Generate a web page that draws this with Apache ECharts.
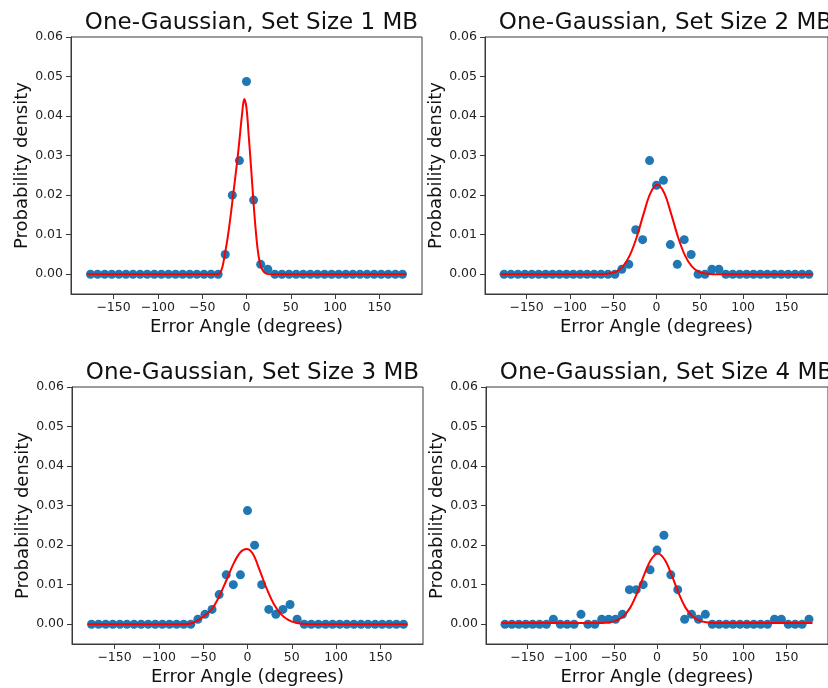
<!DOCTYPE html>
<html>
<head>
<meta charset="utf-8" />
<title>One-Gaussian fits</title>
<style>
  html, body { margin: 0; padding: 0; background: #fff; }
  #mapBox { width: 828px; height: 688px; }
</style>
</head>
<body>
<div id="mapBox"></div>
<script src="https://cdn.jsdelivr.net/npm/echarts@6/dist/echarts.min.js"></script>
<script>
// bin centres (degrees)
var binCenters = [-176, -168, -160, -152, -144, -136, -128, -120, -112, -104, -96, -88, -80, -72, -64, -56, -48, -40, -32, -24, -16, -8,
  0, 8, 16, 24, 32, 40, 48, 56, 64, 72, 80, 88, 96, 104, 112, 120, 128, 136, 144, 152, 160, 168, 176];

// observed densities per panel
var obs1 = [0, 0, 0, 0, 0, 0, 0, 0, 0, 0, 0, 0, 0, 0, 0, 0, 0, 0, 0, 0.005, 0.02, 0.02875,
  0.04875, 0.01875, 0.0025, 0.00125, 0, 0, 0, 0, 0, 0, 0, 0, 0, 0, 0, 0, 0, 0, 0, 0, 0, 0, 0];
var obs2 = [0, 0, 0, 0, 0, 0, 0, 0, 0, 0, 0, 0, 0, 0, 0, 0, 0, 0.00125, 0.0025, 0.01125, 0.00875, 0.02875,
  0.0225, 0.02375, 0.0075, 0.0025, 0.00875, 0.005, 0, 0, 0.00125, 0.00125, 0, 0, 0, 0, 0, 0, 0, 0, 0, 0, 0, 0, 0];
var obs3 = [0, 0, 0, 0, 0, 0, 0, 0, 0, 0, 0, 0, 0, 0, 0, 0.00125, 0.0025, 0.00375, 0.0075, 0.0125, 0.01, 0.0125,
  0.02875, 0.02, 0.01, 0.00375, 0.0025, 0.00375, 0.005, 0.00125, 0, 0, 0, 0, 0, 0, 0, 0, 0, 0, 0, 0, 0, 0, 0];
var obs4 = [0, 0, 0, 0, 0, 0, 0, 0.00125, 0, 0, 0, 0.0025, 0, 0, 0.00125, 0.00125, 0.00125, 0.0025, 0.00875, 0.00875, 0.01, 0.01375,
  0.01875, 0.0225, 0.0125, 0.00875, 0.00125, 0.0025, 0.00125, 0.0025, 0, 0, 0, 0, 0, 0, 0, 0, 0, 0.00125, 0.00125, 0, 0, 0, 0.00125];

// fitted curves as [angle, density]
var fit1 = [[-180, 0], [-34, 0], [-30, 0.0003], [-27, 0.002], [-24.5, 0.005], [-22, 0.0082], [-20, 0.0112], [-17.5, 0.0155],
  [-15, 0.0202], [-12.5, 0.0248], [-10, 0.0295], [-7.5, 0.035], [-5, 0.0405], [-2.6, 0.0443], [0, 0.042], [2.5, 0.035],
  [5, 0.0275], [7.5, 0.0195], [10, 0.0122], [12.5, 0.0065], [15, 0.003], [17.5, 0.0013], [20, 0.0005], [23, 0.0001], [27, 0], [180, 0]];
var fit2 = [[-180, 0], [-63, 0], [-55, 0.0002], [-47, 0.0006], [-39, 0.0019], [-31, 0.0047], [-23, 0.0093], [-15, 0.0152],
  [-7, 0.0205], [1, 0.0226], [9, 0.0205], [17, 0.0152], [25, 0.0093], [33, 0.0047], [41, 0.0019], [49, 0.0006], [57, 0.0002], [65, 0], [180, 0]];
var fit3 = [[-180, 0], [-70, 0], [-62, 0.0003], [-56, 0.001], [-48, 0.0022], [-40, 0.0039], [-32, 0.007], [-24, 0.011],
  [-16, 0.0152], [-8, 0.0182], [-1, 0.019], [6, 0.0178], [14, 0.0135], [22, 0.0088], [30, 0.005], [38, 0.0025], [46, 0.0011],
  [54, 0.0004], [62, 0.0001], [70, 0], [180, 0]];
var fit4 = [[-180, 0.0003], [-63, 0.0003], [-55, 0.0005], [-47, 0.0009], [-39, 0.002], [-31, 0.0042], [-23, 0.0079], [-15, 0.0124],
  [-7, 0.0163], [1, 0.0179], [9, 0.0163], [17, 0.0124], [25, 0.0079], [33, 0.0042], [41, 0.002], [49, 0.0009], [57, 0.0005], [65, 0.0003], [180, 0.0003]];

var titles = ['One-Gaussian, Set Size 1 MB', 'One-Gaussian, Set Size 2 MB', 'One-Gaussian, Set Size 3 MB', 'One-Gaussian, Set Size 4 MB'];
var xTicks = [-150, -100, -50, 0, 50, 100, 150];
var yTicks = [0, 0.01, 0.02, 0.03, 0.04, 0.05, 0.06];

var _font = 'DejaVu Sans';
var axisColor = '#3a3a3a';
var textColor = '#222';

// plot boxes in pixels
var boxes = [
  { left: 71, top: 37, width: 351, height: 257 },
  { left: 485, top: 37, width: 351, height: 257 },
  { left: 72, top: 387, width: 351, height: 257 },
  { left: 486, top: 387, width: 351, height: 257 }
];

function minusFmt(v) {
  return v < 0 ? '\u2212' + (-v) : String(v);
}

function buildOption() {
  var obs = [obs1, obs2, obs3, obs4];
  var fits = [fit1, fit2, fit3, fit4];
  var grid = [], xAxis = [], yAxis = [], series = [], title = [];
  for (var i = 0; i < 4; i++) {
    var b = boxes[i];
    grid.push({
      left: b.left, top: b.top, width: b.width, height: b.height,
      show: true, borderColor: axisColor, borderWidth: 1, backgroundColor: 'transparent'
    });
    title.push({
      text: titles[i],
      left: b.left + b.width / 2,
      top: b.top - 30,
      textAlign: 'center',
      textStyle: { fontFamily: _font, fontSize: 23, fontWeight: 'normal', color: '#111' }
    });
    xAxis.push({
      type: 'value', gridIndex: i, min: -198, max: 198,
      name: 'Error Angle (degrees)', nameLocation: 'middle', nameGap: 24,
      nameTextStyle: { fontFamily: _font, fontSize: 18, color: '#111' },
      axisLine: { show: true, onZero: false, lineStyle: { color: axisColor, width: 1 } },
      axisTick: { show: true, length: 5, customValues: xTicks, lineStyle: { color: axisColor } },
      axisLabel: { customValues: xTicks, formatter: minusFmt, margin: 7, fontFamily: _font, fontSize: 12.5, color: textColor },
      splitLine: { show: false }
    });
    yAxis.push({
      type: 'value', gridIndex: i, min: -0.005, max: 0.06,
      name: 'Probability density', nameLocation: 'middle', nameGap: 36,
      nameTextStyle: { fontFamily: _font, fontSize: 18, color: '#111' },
      axisLine: { show: true, onZero: false, lineStyle: { color: axisColor, width: 1 } },
      axisTick: { show: true, length: 5, customValues: yTicks, lineStyle: { color: axisColor } },
      axisLabel: { customValues: yTicks, formatter: function (v) { return v.toFixed(2); }, margin: 8, fontFamily: _font, fontSize: 12.5, color: textColor },
      splitLine: { show: false }
    });
    var pts = [];
    for (var k = 0; k < binCenters.length; k++) {
      pts.push([binCenters[k], obs[i][k]]);
    }
    series.push({
      type: 'scatter', xAxisIndex: i, yAxisIndex: i,
      data: pts, symbolSize: 9,
      itemStyle: { color: '#1f77b4', opacity: 1 },
      z: 2
    });
    series.push({
      type: 'line', xAxisIndex: i, yAxisIndex: i,
      data: fits[i], smooth: 0.35, showSymbol: false,
      lineStyle: { color: '#ff0000', width: 2 },
      z: 3
    });
  }
  return {
    backgroundColor: '#fff',
    animation: false,
    title: title, grid: grid, xAxis: xAxis, yAxis: yAxis, series: series
  };
}

var myChart = echarts.init(document.getElementById('mapBox'));
myChart.setOption(buildOption());
</script>
</body>
</html>
